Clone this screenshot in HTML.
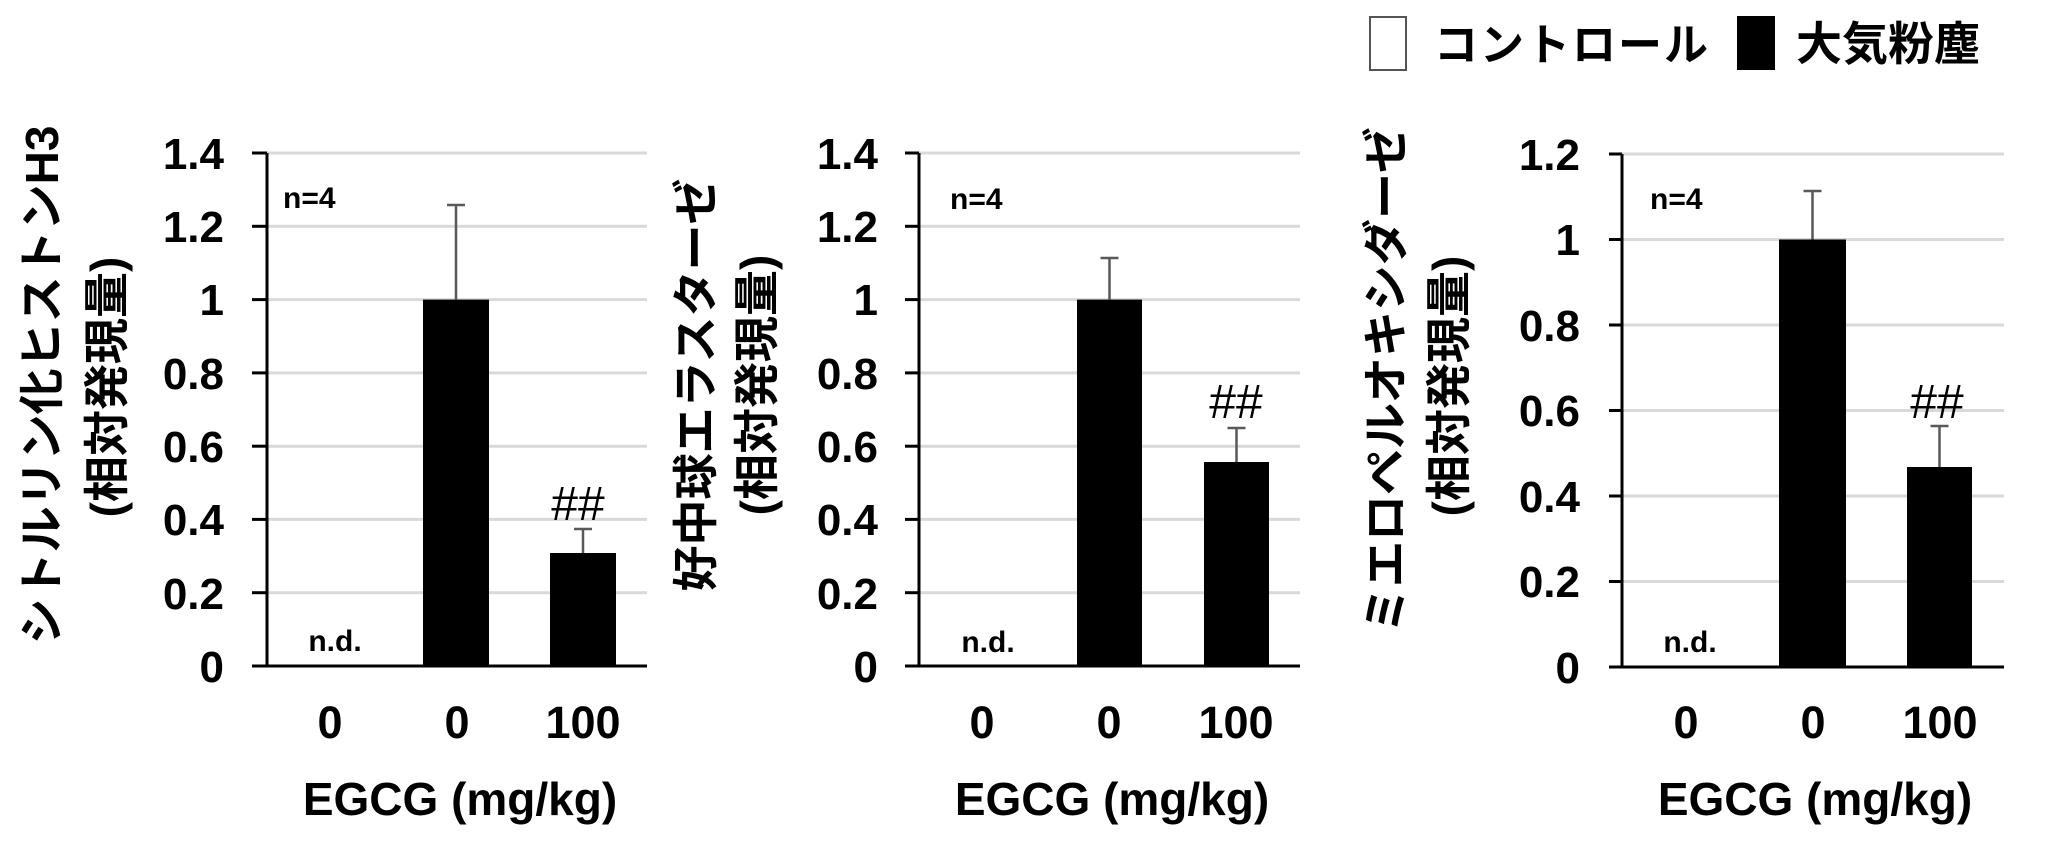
<!DOCTYPE html>
<html><head><meta charset="utf-8"><style>
html,body{margin:0;padding:0;background:#fff;}
svg{display:block;}
text{font-family:"Liberation Sans","Noto Sans CJK JP",sans-serif;font-weight:bold;fill:#000;}
.g{stroke:#d9d9d9;stroke-width:3;}
.ax{stroke:#000;stroke-width:3;}
.e{stroke:#595959;stroke-width:2.5;}
.yt{font-size:44px;text-anchor:end;}
.xt{font-size:45px;text-anchor:middle;}
.xl{font-size:46px;text-anchor:middle;}
.sm{font-size:30px;}
.hh{font-size:48px;font-weight:normal;text-anchor:middle;}
.yl{font-size:46px;text-anchor:middle;dominant-baseline:central;}
</style></head><body>
<svg width="2048" height="854" viewBox="0 0 2048 854" xmlns="http://www.w3.org/2000/svg">
<!-- legend -->
<rect x="1370" y="17" width="36" height="53" fill="#fff" stroke="#555" stroke-width="2"/>
<text x="1434" y="60" style="font-size:44px;letter-spacing:2px">コントロール</text>
<rect x="1737" y="16" width="38" height="54" fill="#000"/>
<text x="1796" y="60" style="font-size:46px">大気粉塵</text>

<!-- Chart 1 -->
<g>
<line class="g" x1="267" x2="647" y1="592.7" y2="592.7"/>
<line class="g" x1="267" x2="647" y1="519.4" y2="519.4"/>
<line class="g" x1="267" x2="647" y1="446.2" y2="446.2"/>
<line class="g" x1="267" x2="647" y1="372.9" y2="372.9"/>
<line class="g" x1="267" x2="647" y1="299.6" y2="299.6"/>
<line class="g" x1="267" x2="647" y1="226.3" y2="226.3"/>
<line class="g" x1="267" x2="647" y1="153" y2="153"/>
<rect x="423" y="299.6" width="66" height="366.4" fill="#000"/>
<rect x="550" y="553" width="66" height="113" fill="#000"/>
<line class="e" x1="456" x2="456" y1="299.6" y2="205"/><line class="e" x1="447" x2="465" y1="205" y2="205"/>
<line class="e" x1="583" x2="583" y1="553" y2="529"/><line class="e" x1="574" x2="592" y1="529" y2="529"/>
<line class="ax" x1="267" x2="267" y1="153" y2="666"/>
<line class="ax" x1="252" x2="647" y1="666" y2="666"/>
<line class="ax" x1="252" x2="267" y1="592.7" y2="592.7"/><line class="ax" x1="252" x2="267" y1="519.4" y2="519.4"/>
<line class="ax" x1="252" x2="267" y1="446.2" y2="446.2"/><line class="ax" x1="252" x2="267" y1="372.9" y2="372.9"/>
<line class="ax" x1="252" x2="267" y1="299.6" y2="299.6"/><line class="ax" x1="252" x2="267" y1="226.3" y2="226.3"/>
<line class="ax" x1="252" x2="267" y1="153" y2="153"/>
<text class="yt" x="224" y="682">0</text><text class="yt" x="224" y="609">0.2</text><text class="yt" x="224" y="535">0.4</text>
<text class="yt" x="224" y="462">0.6</text><text class="yt" x="224" y="389">0.8</text><text class="yt" x="224" y="315">1</text>
<text class="yt" x="224" y="242">1.2</text><text class="yt" x="224" y="169">1.4</text>
<text class="xt" x="330" y="738">0</text><text class="xt" x="457" y="738">0</text><text class="xt" x="583" y="738">100</text>
<text class="xl" x="460" y="815">EGCG (mg/kg)</text>
<text class="sm" x="283" y="208">n=4</text>
<text class="sm" x="335" y="651" text-anchor="middle">n.d.</text>
<text class="hh" x="578" y="520">##</text>
<text class="yl" transform="translate(42,385) rotate(-90)">シトルリン化ヒストンH3</text>
<text class="yl" transform="translate(107,387) rotate(-90)">(相対発現量)</text>
</g>

<!-- Chart 2 -->
<g>
<line class="g" x1="919" x2="1300" y1="592.7" y2="592.7"/>
<line class="g" x1="919" x2="1300" y1="519.4" y2="519.4"/>
<line class="g" x1="919" x2="1300" y1="446.2" y2="446.2"/>
<line class="g" x1="919" x2="1300" y1="372.9" y2="372.9"/>
<line class="g" x1="919" x2="1300" y1="299.6" y2="299.6"/>
<line class="g" x1="919" x2="1300" y1="226.3" y2="226.3"/>
<line class="g" x1="919" x2="1300" y1="153" y2="153"/>
<rect x="1077" y="299.6" width="65" height="366.4" fill="#000"/>
<rect x="1204" y="462" width="65" height="204" fill="#000"/>
<line class="e" x1="1109.5" x2="1109.5" y1="299.6" y2="258"/><line class="e" x1="1100.5" x2="1118.5" y1="258" y2="258"/>
<line class="e" x1="1236.5" x2="1236.5" y1="462" y2="428"/><line class="e" x1="1227.5" x2="1245.5" y1="428" y2="428"/>
<line class="ax" x1="919" x2="919" y1="153" y2="666"/>
<line class="ax" x1="905" x2="1300" y1="666" y2="666"/>
<line class="ax" x1="905" x2="919" y1="592.7" y2="592.7"/><line class="ax" x1="905" x2="919" y1="519.4" y2="519.4"/>
<line class="ax" x1="905" x2="919" y1="446.2" y2="446.2"/><line class="ax" x1="905" x2="919" y1="372.9" y2="372.9"/>
<line class="ax" x1="905" x2="919" y1="299.6" y2="299.6"/><line class="ax" x1="905" x2="919" y1="226.3" y2="226.3"/>
<line class="ax" x1="905" x2="919" y1="153" y2="153"/>
<text class="yt" x="878" y="682">0</text><text class="yt" x="878" y="609">0.2</text><text class="yt" x="878" y="535">0.4</text>
<text class="yt" x="878" y="462">0.6</text><text class="yt" x="878" y="389">0.8</text><text class="yt" x="878" y="315">1</text>
<text class="yt" x="878" y="242">1.2</text><text class="yt" x="878" y="169">1.4</text>
<text class="xt" x="982" y="738">0</text><text class="xt" x="1109" y="738">0</text><text class="xt" x="1236" y="738">100</text>
<text class="xl" x="1112" y="815">EGCG (mg/kg)</text>
<text class="sm" x="950" y="209">n=4</text>
<text class="sm" x="988" y="652" text-anchor="middle">n.d.</text>
<text class="hh" x="1236" y="418">##</text>
<text class="yl" transform="translate(696,385) rotate(-90)">好中球エラスターゼ</text>
<text class="yl" transform="translate(757,385) rotate(-90)">(相対発現量)</text>
</g>

<!-- Chart 3 -->
<g>
<line class="g" x1="1622" x2="2004" y1="581.5" y2="581.5"/>
<line class="g" x1="1622" x2="2004" y1="496" y2="496"/>
<line class="g" x1="1622" x2="2004" y1="410.5" y2="410.5"/>
<line class="g" x1="1622" x2="2004" y1="325" y2="325"/>
<line class="g" x1="1622" x2="2004" y1="239.5" y2="239.5"/>
<line class="g" x1="1622" x2="2004" y1="154" y2="154"/>
<rect x="1779" y="239.5" width="67" height="427.5" fill="#000"/>
<rect x="1907" y="467" width="65" height="200" fill="#000"/>
<line class="e" x1="1812.5" x2="1812.5" y1="239.5" y2="191"/><line class="e" x1="1803.5" x2="1821.5" y1="191" y2="191"/>
<line class="e" x1="1939.5" x2="1939.5" y1="467" y2="426"/><line class="e" x1="1930.5" x2="1948.5" y1="426" y2="426"/>
<line class="ax" x1="1622" x2="1622" y1="154" y2="667"/>
<line class="ax" x1="1609" x2="2004" y1="667" y2="667"/>
<line class="ax" x1="1609" x2="1622" y1="581.5" y2="581.5"/><line class="ax" x1="1609" x2="1622" y1="496" y2="496"/>
<line class="ax" x1="1609" x2="1622" y1="410.5" y2="410.5"/><line class="ax" x1="1609" x2="1622" y1="325" y2="325"/>
<line class="ax" x1="1609" x2="1622" y1="239.5" y2="239.5"/><line class="ax" x1="1609" x2="1622" y1="154" y2="154"/>
<text class="yt" x="1580" y="683">0</text><text class="yt" x="1580" y="597">0.2</text><text class="yt" x="1580" y="512">0.4</text>
<text class="yt" x="1580" y="426">0.6</text><text class="yt" x="1580" y="341">0.8</text><text class="yt" x="1580" y="255">1</text>
<text class="yt" x="1580" y="170">1.2</text>
<text class="xt" x="1686" y="738">0</text><text class="xt" x="1813" y="738">0</text><text class="xt" x="1940" y="738">100</text>
<text class="xl" x="1815" y="815">EGCG (mg/kg)</text>
<text class="sm" x="1650" y="209">n=4</text>
<text class="sm" x="1690" y="652" text-anchor="middle">n.d.</text>
<text class="hh" x="1937" y="418">##</text>
<text class="yl" transform="translate(1386,380) rotate(-90)">ミエロペルオキシダーゼ</text>
<text class="yl" transform="translate(1449,386) rotate(-90)">(相対発現量)</text>
</g>
</svg>
</body></html>
